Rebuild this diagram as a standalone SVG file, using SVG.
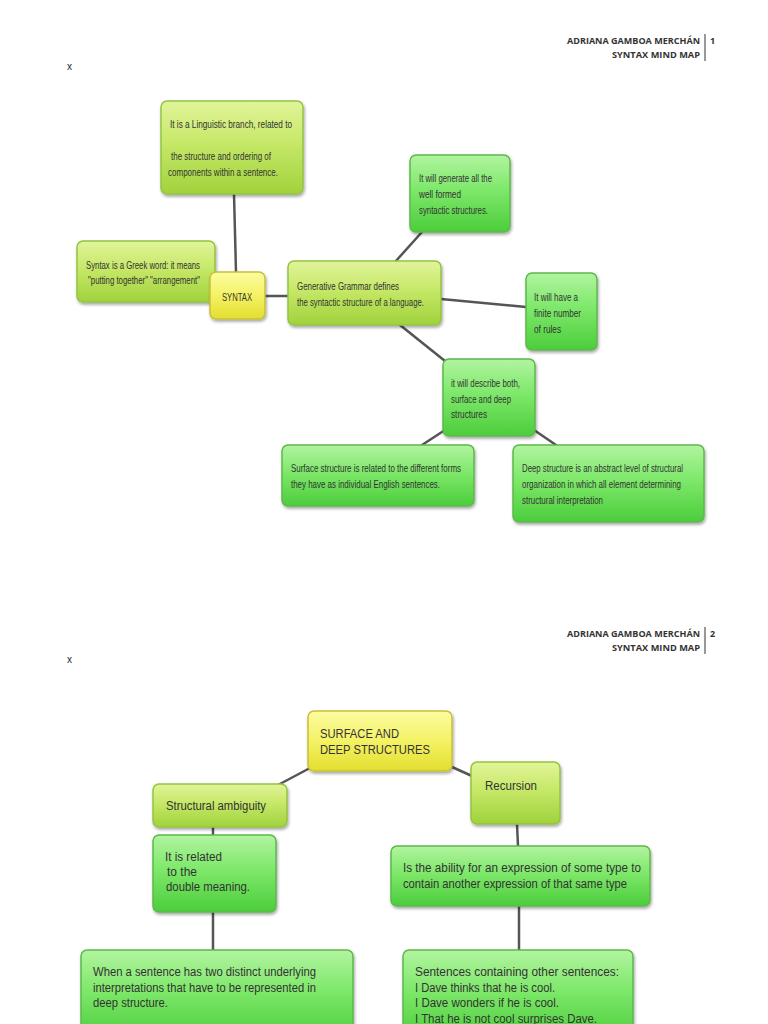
<svg xmlns="http://www.w3.org/2000/svg" width="768" height="1024" viewBox="0 0 768 1024">
<defs>
<linearGradient id="yg" x1="0" y1="0" x2="0" y2="1"><stop offset="0" stop-color="#e2f49a"/><stop offset="0.45" stop-color="#c6e868"/><stop offset="1" stop-color="#a0d23c"/></linearGradient>
<linearGradient id="gr" x1="0" y1="0" x2="0" y2="1"><stop offset="0" stop-color="#b2f4a0"/><stop offset="0.45" stop-color="#7ee86a"/><stop offset="1" stop-color="#4ccd3c"/></linearGradient>
<linearGradient id="ye" x1="0" y1="0" x2="0" y2="1"><stop offset="0" stop-color="#fcfca2"/><stop offset="0.5" stop-color="#f4f264"/><stop offset="1" stop-color="#e2de30"/></linearGradient>
<filter id="sh" x="-10%" y="-10%" width="130%" height="140%"><feDropShadow dx="1" dy="2" stdDeviation="1.5" flood-color="#000" flood-opacity="0.35"/></filter>
</defs>
<style>
.yg{fill:url(#yg);stroke:#94c443;stroke-width:1.5;filter:url(#sh)}
.gr{fill:url(#gr);stroke:#5db84c;stroke-width:1.5;filter:url(#sh)}
.ye{fill:url(#ye);stroke:#c8c03a;stroke-width:1.5;filter:url(#sh)}
.t1{font-family:"Liberation Sans",Arial,sans-serif;font-size:11px;fill:#333}
.t2{font-family:"Liberation Sans",Arial,sans-serif;font-size:12.5px;fill:#333}
.hd{font-family:"Open Sans","Liberation Sans",sans-serif;font-size:9px;font-weight:bold;fill:#333}
.x{font-family:"Liberation Sans",Arial,sans-serif;font-size:10px;fill:#222}
.c line{stroke:#555;stroke-width:2.5;stroke-linecap:round}
.hl{stroke:#333;stroke-width:1}
</style>
<rect width="768" height="1024" fill="#fff"/>

<g id="page1-header">
<text class="hd" x="567" y="44" textLength="133" lengthAdjust="spacingAndGlyphs">ADRIANA GAMBOA MERCHÁN</text>
<text class="hd" x="710" y="44">1</text>
<text class="hd" x="612" y="58" textLength="88" lengthAdjust="spacingAndGlyphs">SYNTAX MIND MAP</text>
<line class="hl" x1="705" y1="34" x2="705" y2="61"/>
<text class="x" x="67" y="70">x</text>
</g>

<g id="connectors-p1" class="c">
<line x1="234" y1="194" x2="236" y2="272"/>
<line x1="265" y1="296" x2="288" y2="296"/>
<line x1="395" y1="262" x2="422" y2="232"/>
<line x1="441" y1="299" x2="526" y2="307"/>
<line x1="400" y1="325" x2="445" y2="361"/>
<line x1="445" y1="430" x2="422" y2="445"/>
<line x1="534" y1="430" x2="556" y2="445"/>
</g>

<g id="n-linguistic">
<rect class="yg" x="161" y="101" width="142" height="93" rx="6"/>
<text class="t1" x="170" y="128" textLength="122" lengthAdjust="spacingAndGlyphs">It is a Linguistic branch, related to</text>
<text class="t1" x="171" y="160" textLength="100" lengthAdjust="spacingAndGlyphs">the structure and ordering of</text>
<text class="t1" x="168" y="176" textLength="110" lengthAdjust="spacingAndGlyphs">components within a sentence.</text>
</g>

<g id="n-greek">
<rect class="yg" x="77" y="241" width="138" height="61" rx="6"/>
<text class="t1" x="86" y="269" textLength="114" lengthAdjust="spacingAndGlyphs">Syntax is a Greek word: it means</text>
<text class="t1" x="88" y="284" textLength="112" lengthAdjust="spacingAndGlyphs">"putting together" "arrangement"</text>
</g>

<g id="n-syntax">
<rect class="ye" x="210" y="272" width="55" height="47" rx="6"/>
<text class="t1" x="222" y="301" textLength="30" lengthAdjust="spacingAndGlyphs">SYNTAX</text>
</g>

<g id="n-generative">
<rect class="yg" x="288" y="261" width="153" height="64" rx="6"/>
<text class="t1" x="297" y="290" textLength="102" lengthAdjust="spacingAndGlyphs">Generative Grammar defines</text>
<text class="t1" x="297" y="306" textLength="127" lengthAdjust="spacingAndGlyphs">the syntactic structure of a language.</text>
</g>

<g id="n-generate">
<rect class="gr" x="410" y="155" width="100" height="77" rx="6"/>
<text class="t1" x="419" y="182" textLength="73" lengthAdjust="spacingAndGlyphs">It will generate all the</text>
<text class="t1" x="419" y="198" textLength="42" lengthAdjust="spacingAndGlyphs">well formed</text>
<text class="t1" x="419" y="214" textLength="69" lengthAdjust="spacingAndGlyphs">syntactic structures.</text>
</g>

<g id="n-rules">
<rect class="gr" x="526" y="273" width="71" height="77" rx="6"/>
<text class="t1" x="534" y="301" textLength="44" lengthAdjust="spacingAndGlyphs">It will have a</text>
<text class="t1" x="534" y="317" textLength="47" lengthAdjust="spacingAndGlyphs">finite number</text>
<text class="t1" x="534" y="333" textLength="27" lengthAdjust="spacingAndGlyphs">of rules</text>
</g>

<g id="n-describe">
<rect class="gr" x="443" y="359" width="92" height="77" rx="6"/>
<text class="t1" x="451" y="387" textLength="69" lengthAdjust="spacingAndGlyphs">it will describe both,</text>
<text class="t1" x="451" y="403" textLength="60" lengthAdjust="spacingAndGlyphs">surface and deep</text>
<text class="t1" x="451" y="418" textLength="36" lengthAdjust="spacingAndGlyphs">structures</text>
</g>

<g id="n-surface">
<rect class="gr" x="282" y="445" width="192" height="61" rx="6"/>
<text class="t1" x="291" y="472" textLength="170" lengthAdjust="spacingAndGlyphs">Surface structure is related to the different forms</text>
<text class="t1" x="291" y="488" textLength="149" lengthAdjust="spacingAndGlyphs">they have as individual English sentences.</text>
</g>

<g id="n-deep">
<rect class="gr" x="513" y="445" width="191" height="77" rx="6"/>
<text class="t1" x="522" y="472" textLength="161" lengthAdjust="spacingAndGlyphs">Deep structure is an abstract level of structural</text>
<text class="t1" x="522" y="488" textLength="159" lengthAdjust="spacingAndGlyphs">organization in which all element determining</text>
<text class="t1" x="522" y="504" textLength="81" lengthAdjust="spacingAndGlyphs">structural interpretation</text>
</g>

<g id="page2-header">
<text class="hd" x="567" y="637" textLength="133" lengthAdjust="spacingAndGlyphs">ADRIANA GAMBOA MERCHÁN</text>
<text class="hd" x="710" y="637">2</text>
<text class="hd" x="612" y="651" textLength="88" lengthAdjust="spacingAndGlyphs">SYNTAX MIND MAP</text>
<line class="hl" x1="705" y1="627" x2="705" y2="654"/>
<text class="x" x="67" y="663">x</text>
</g>

<g id="connectors-p2" class="c">
<line x1="310" y1="768" x2="278" y2="785"/>
<line x1="452" y1="767" x2="472" y2="776"/>
<line x1="213" y1="827" x2="213" y2="835"/>
<line x1="517" y1="824" x2="518" y2="846"/>
<line x1="213" y1="912" x2="213" y2="950"/>
<line x1="519" y1="906" x2="519" y2="950"/>
</g>

<g id="n-sds">
<rect class="ye" x="308" y="711" width="144" height="60" rx="6"/>
<text class="t2" x="320" y="738" textLength="79" lengthAdjust="spacingAndGlyphs">SURFACE AND</text>
<text class="t2" x="320" y="754" textLength="110" lengthAdjust="spacingAndGlyphs">DEEP STRUCTURES</text>
</g>

<g id="n-ambiguity">
<rect class="yg" x="153" y="784" width="134" height="43" rx="6"/>
<text class="t2" x="166" y="810" textLength="100" lengthAdjust="spacingAndGlyphs">Structural ambiguity</text>
</g>

<g id="n-recursion">
<rect class="yg" x="471" y="762" width="89" height="62" rx="6"/>
<text class="t2" x="485" y="790" textLength="52" lengthAdjust="spacingAndGlyphs">Recursion</text>
</g>

<g id="n-related">
<rect class="gr" x="153" y="835" width="123" height="77" rx="6"/>
<text class="t2" x="165" y="861" textLength="57" lengthAdjust="spacingAndGlyphs">It is related</text>
<text class="t2" x="167" y="876" textLength="30" lengthAdjust="spacingAndGlyphs">to the</text>
<text class="t2" x="166" y="891" textLength="84" lengthAdjust="spacingAndGlyphs">double meaning.</text>
</g>

<g id="n-ability">
<rect class="gr" x="391" y="846" width="259" height="60" rx="6"/>
<text class="t2" x="403" y="872" textLength="238" lengthAdjust="spacingAndGlyphs">Is the ability for an expression of some type to</text>
<text class="t2" x="403" y="888" textLength="224" lengthAdjust="spacingAndGlyphs">contain another expression of that same type</text>
</g>

<g id="n-twointerp">
<rect class="gr" x="81" y="950" width="272" height="90" rx="6"/>
<text class="t2" x="93" y="976" textLength="223" lengthAdjust="spacingAndGlyphs">When a sentence has two distinct underlying</text>
<text class="t2" x="93" y="992" textLength="223" lengthAdjust="spacingAndGlyphs">interpretations that have to be represented in</text>
<text class="t2" x="93" y="1007" textLength="75" lengthAdjust="spacingAndGlyphs">deep structure.</text>
</g>

<g id="n-sentences">
<rect class="gr" x="403" y="950" width="230" height="90" rx="6"/>
<text class="t2" x="415" y="976" textLength="204" lengthAdjust="spacingAndGlyphs">Sentences containing other sentences:</text>
<text class="t2" x="415" y="992" textLength="140" lengthAdjust="spacingAndGlyphs">I Dave thinks that he is cool.</text>
<text class="t2" x="415" y="1007" textLength="144" lengthAdjust="spacingAndGlyphs">I Dave wonders if he is cool.</text>
<text class="t2" x="415" y="1023" textLength="182" lengthAdjust="spacingAndGlyphs">I That he is not cool surprises Dave.</text>
</g>
</svg>
